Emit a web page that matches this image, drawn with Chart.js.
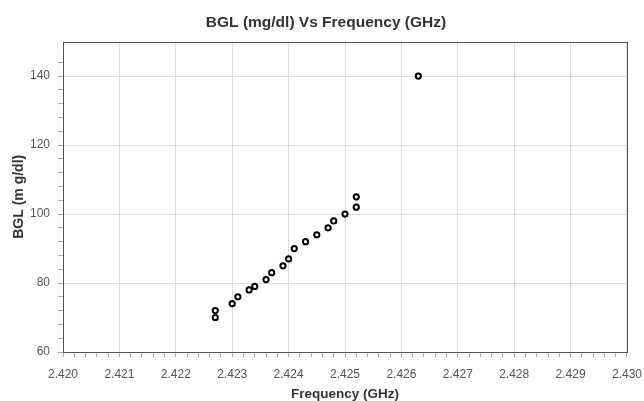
<!DOCTYPE html>
<html>
<head>
<meta charset="utf-8">
<script src="https://cdn.jsdelivr.net/npm/chart.js@4"></script>
<style>
  html, body { margin: 0; padding: 0; background: #fff; }
  #wrap { width: 644px; height: 401px; position: relative; }
</style>
</head>
<body>
<div id="wrap"><canvas id="c"></canvas></div>
<script>
const frequencyGHz = [2.4227, 2.4227, 2.4230, 2.4231, 2.4233, 2.4234, 2.4236, 2.4237, 2.4239, 2.4240, 2.4241, 2.4243, 2.4245, 2.4247, 2.4248, 2.4250, 2.4252, 2.4252, 2.4263];
const bglMgDl      = [72,     70,     74,     76,     78,     79,     81,     83,     85,     87,     90,     92,     94,     96,     98,     100,    102,    105,    140];
const xRange = [2.420, 2.430];
const yRange = [60, 150];

const points = frequencyGHz.map((f, i) => ({ x: f, y: bglMgDl[i] }));

const isMajorX = v => Math.abs(v * 1000 - Math.round(v * 1000)) < 1e-6;
const isMajorY = v => Math.abs((v - 60) / 20 - Math.round((v - 60) / 20)) < 1e-6;

const FONT = 'Liberation Sans, Arial, sans-serif';

const frame = {
  id: 'frame',
  afterDraw(chart) {
    const { ctx, chartArea: a } = chart;
    ctx.save();
    ctx.strokeStyle = '#555';
    ctx.lineWidth = 1;
    ctx.strokeRect(Math.round(a.left) + 0.5, Math.round(a.top) + 0.5, Math.round(a.right - a.left), Math.round(a.bottom - a.top));
    ctx.restore();
  }
};

new Chart(document.getElementById('c'), {
  type: 'scatter',
  data: {
    datasets: [{
      data: points,
      backgroundColor: 'rgba(255,255,255,0)',
      borderColor: '#000',
      borderWidth: 2,
      pointRadius: 2.6,
      pointHoverRadius: 2.6
    }]
  },
  options: {
    responsive: true,
    maintainAspectRatio: false,
    animation: false,
    layout: { padding: { left: 0, right: -8, top: 0, bottom: 0 } },
    plugins: {
      legend: { display: false },
      tooltip: { enabled: false },
      title: {
        display: true,
        text: 'BGL (mg/dl) Vs Frequency (GHz)',
        color: '#333',
        font: { family: FONT, size: 15.5, weight: 'bold' },
        padding: { top: 13, bottom: 10 }
      }
    },
    scales: {
      x: {
        type: 'linear',
        min: xRange[0],
        max: xRange[1],
        ticks: {
          stepSize: 0.0002,
          autoSkip: false,
          maxRotation: 0,
          color: '#555',
          padding: 2,
          font: { family: FONT, size: 12, lineHeight: 2.55 },
          callback: v => isMajorX(v) ? v.toFixed(3) : ''
        },
        grid: {
          color: c => isMajorX(c.tick.value) ? '#dcdcdc' : 'rgba(0,0,0,0)',
          tickColor: '#aaa',
          tickLength: 5,
          drawOnChartArea: true
        },
        border: { display: false },
        title: {
          display: true,
          text: 'Frequency (GHz)',
          color: '#333',
          padding: { top: -5.2, bottom: -1.6 },
          font: { family: FONT, size: 13.5, weight: 'bold' }
        }
      },
      y: {
        min: yRange[0],
        max: yRange[1],
        ticks: {
          stepSize: 4,
          autoSkip: false,
          color: '#555',
          padding: 8,
          font: { family: FONT, size: 12 },
          callback: v => isMajorY(v) ? String(v) : ''
        },
        grid: {
          color: c => isMajorY(c.tick.value) ? '#dcdcdc' : 'rgba(0,0,0,0)',
          tickColor: c => c.tick.value >= 150 ? 'rgba(0,0,0,0)' : '#aaa',
          tickLength: 5,
          drawOnChartArea: true
        },
        border: { display: false },
        title: {
          display: true,
          text: 'BGL (m g/dl)',
          color: '#333',
          padding: { top: 10.6, bottom: -5.4 },
          font: { family: FONT, size: 14, weight: 'bold' }
        }
      }
    }
  },
  plugins: [frame]
});
</script>
</body>
</html>
